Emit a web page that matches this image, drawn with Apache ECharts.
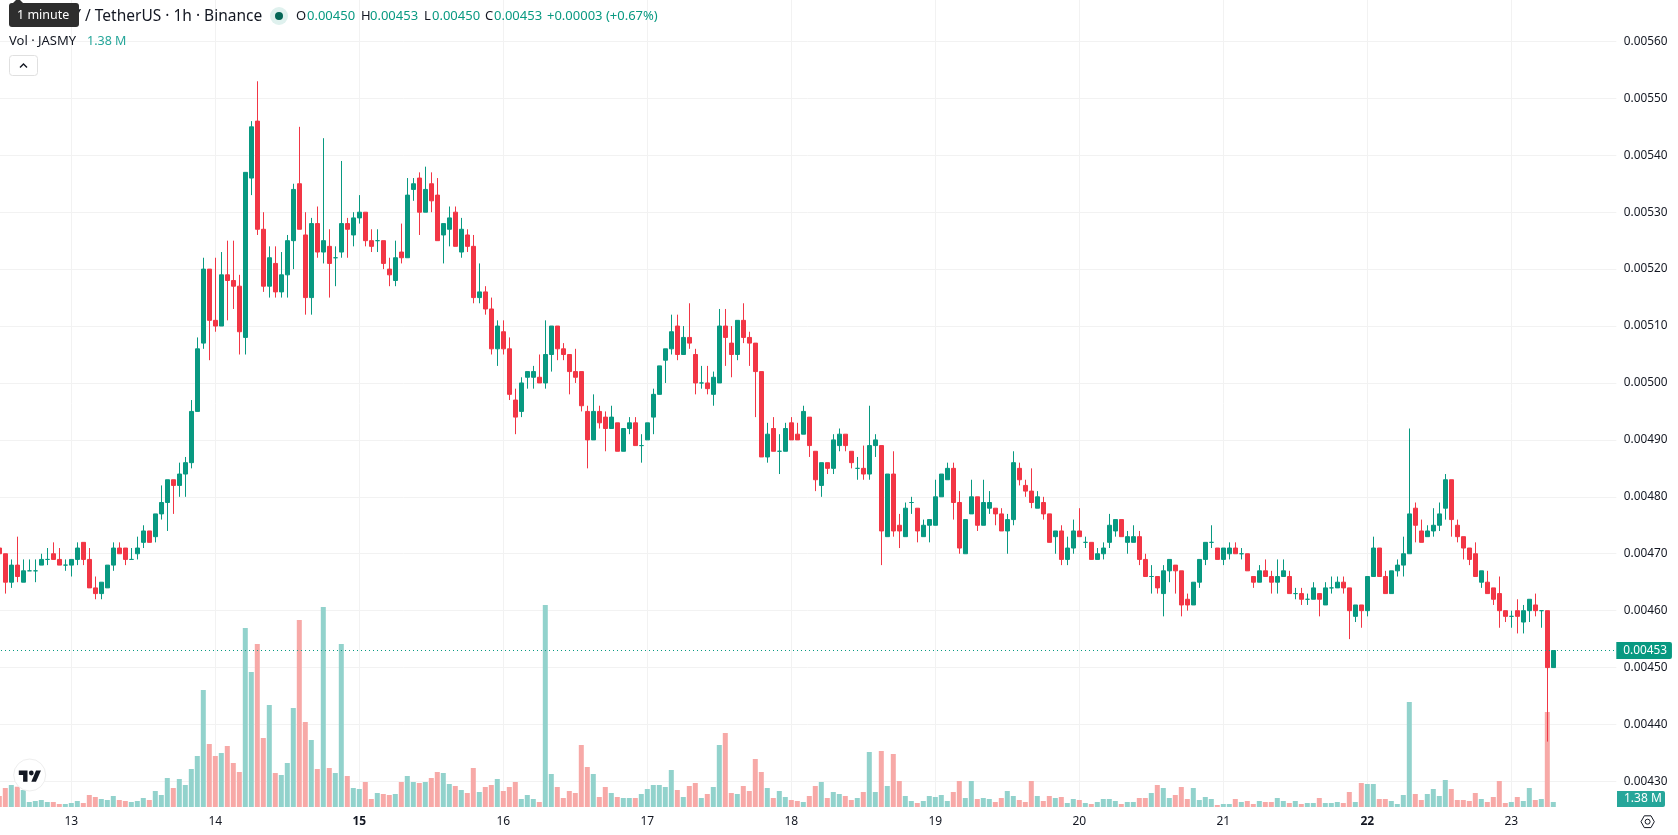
<!DOCTYPE html>
<html>
<head>
<meta charset="utf-8">
<title>JASMY / TetherUS 1h</title>
<style>
  html, body { margin: 0; padding: 0; background: #ffffff; }
  #chart { width: 1678px; height: 835px; }
</style>
<script src="https://cdn.jsdelivr.net/npm/echarts@6/dist/echarts.min.js"></script>
</head>
<body>
<div id="chart"></div>
<script>
// Hourly candles, prices in units of 0.00001 USDT, first candle is the 12th at 12:00.
const opens = [
  471,470,465,468,465,467,467,468,469,470,469,468,
  468,469,472,469,464,463,464,468,471,471,469,470,472,474,473,477,479,483,482,484,486,495,507,520,
  511,510,519,518,517,508,536,546,527,517,521,516,519,525,535,526,515,528,523,524,522,523,528,526,
  529,530,525,525,525,520,518,523,522,534,536,530,535,533,526,527,530,523,526,524,515,516,513,506,
  509,506,497,495,501,501,501,500,505,510,506,505,502,502,495,490,495,494,492,493,488,492,493,489,
  490,494,498,504,506,510,505,508,505,500,500,498,500,510,507,505,511,508,507,502,487,492,488,488,
  493,491,491,494,488,482,486,485,489,491,488,485,485,484,489,489,473,484,475,473,479,478,473,475,
  475,480,483,485,479,470,477,480,475,478,478,477,474,476,485,482,481,478,479,477,473,474,469,471,
  474,472,472,469,470,472,474,476,472,472,473,469,466,466,463,467,468,467,462,461,465,469,472,471,
  469,470,471,470,470,466,465,467,466,465,466,466,463,463,462,462,463,461,464,464,465,464,459,461,
  460,466,471,466,463,467,468,470,478,474,473,474,475,478,483,475,473,471,470,465,465,464,463,460,
  459,460,458,460,461,460,460,450
];
const closes = [
  470,465,468,466,467,467,467,469,469,469,468,468,
  469,471,469,464,463,465,468,471,470,469,469,471,474,472,477,479,483,482,484,486,495,506,520,511,
  510,519,518,517,509,537,545,527,517,522,516,519,525,534,527,515,528,523,525,521,522,528,527,529,
  530,525,524,525,521,519,522,522,533,535,530,534,532,525,528,529,524,527,524,515,516,513,506,510,
  506,498,494,500,502,502,500,505,510,506,505,502,501,496,490,495,493,492,494,488,492,493,489,489,
  493,498,503,506,509,505,508,507,500,500,499,501,510,508,505,511,508,507,502,487,491,488,488,492,
  490,490,495,489,483,486,485,490,491,489,486,485,484,489,490,474,484,474,474,478,479,474,475,476,
  480,484,485,479,471,476,480,475,479,479,477,474,476,486,483,481,479,480,477,472,474,469,471,474,
  473,472,469,470,471,475,476,473,473,473,469,466,466,464,467,469,467,461,461,465,469,472,472,469,
  471,471,470,470,467,465,467,466,465,466,467,463,463,462,462,464,462,464,464,465,464,460,461,460,
  466,471,466,463,467,468,470,477,475,472,474,475,477,483,476,473,471,469,466,467,463,462,460,459,
  459,459,460,462,460,460,450,453
];
const lows = [
  470,463,464,465,465,467,465,468,468,469,468,467,
  466,468,468,464,462,462,464,467,470,468,469,469,471,472,472,476,474,477,480,480,485,495,506,504,
  509,510,511,513,505,505,533,526,516,515,515,515,515,520,527,512,512,522,521,515,517,522,522,524,
  528,524,523,523,520,517,517,521,522,532,526,530,530,525,521,524,524,522,523,514,514,512,505,503,
  505,497,491,494,499,499,500,499,502,504,504,498,500,495,485,490,492,488,492,488,488,491,489,486,
  490,491,498,500,505,504,505,506,498,499,498,496,500,503,501,504,507,503,494,487,486,488,484,488,
  490,490,491,487,481,480,484,484,488,488,485,483,483,483,487,468,473,473,471,473,477,472,473,472,
  475,480,483,476,470,470,477,474,475,477,475,474,470,475,482,480,478,478,476,472,470,468,468,470,
  473,471,469,469,469,471,473,473,470,472,468,466,463,463,459,465,463,459,460,461,464,468,471,469,
  468,469,470,469,467,464,465,466,463,463,466,463,462,461,461,462,459,461,463,464,463,455,458,457,
  459,466,466,463,463,466,466,470,472,472,473,473,474,476,473,472,469,468,466,464,463,461,457,458,
  457,456,456,458,459,457,437,450
];
const highs = [
  471,470,469,473,469,469,469,470,471,472,471,469,
  469,472,472,471,466,465,468,472,472,471,471,473,475,474,477,482,483,483,486,487,497,508,522,520,
  522,523,525,525,519,537,546,553,530,524,524,523,526,535,545,530,529,531,543,527,524,539,529,530,
  533,530,527,527,525,522,525,528,536,536,537,538,537,536,528,531,531,529,527,526,521,517,515,511,
  511,508,499,501,502,503,505,511,510,510,507,505,506,502,496,498,496,495,496,493,492,494,494,491,
  493,499,503,506,512,512,510,514,506,503,503,502,513,513,510,511,514,509,507,502,493,494,491,493,
  494,493,496,494,488,486,486,491,492,491,488,487,489,496,491,489,484,488,477,479,480,478,476,476,
  483,484,486,486,481,476,483,480,483,481,478,478,477,488,486,483,485,481,480,477,474,475,473,476,
  478,473,472,471,472,477,476,476,474,475,474,470,468,466,468,469,468,467,463,465,469,472,475,471,
  471,472,472,471,470,466,468,469,467,469,469,467,464,464,463,465,463,465,466,466,466,464,461,461,
  466,473,471,467,467,469,473,492,479,476,475,478,479,484,483,476,473,471,472,467,467,464,466,460,
  460,462,461,462,463,460,460,453
];
// Hourly traded volume in millions of JASMY.
const volumes = [
  3.04,5.24,6.07,5.6,4.69,1.38,1.66,1.93,1.38,1.38,0.83,0.83,
  1.10,1.66,1.10,3.31,2.76,2.21,1.93,3.04,1.93,1.66,1.38,1.66,2.48,1.93,4.42,3.31,8.0,5.24,7.73,6.07,10.49,14.08,32.29,17.39,
  14.08,14.9,16.84,12.14,9.66,49.4,37.26,44.99,19.04,28.15,9.38,8.83,12.14,27.32,51.61,23.46,18.49,10.49,55.2,10.76,9.38,44.99,8.56,5.24,
  4.97,6.9,2.21,3.86,3.59,3.31,3.59,6.9,8.56,6.9,6.62,6.9,8.0,9.66,9.38,6.35,5.8,4.69,3.86,10.76,4.14,5.52,6.07,7.73,
  4.42,5.52,6.9,2.21,3.31,2.21,1.38,55.75,9.11,5.52,2.48,4.42,3.86,17.11,11.04,9.11,2.76,5.52,3.86,2.76,2.48,2.48,2.48,3.59,
  4.97,6.07,6.07,5.52,10.21,4.69,2.76,5.8,6.62,2.48,3.59,5.52,17.11,20.42,3.86,3.59,5.8,4.42,13.25,9.66,5.24,2.48,4.42,2.76,
  1.93,1.66,1.38,3.04,5.8,6.9,2.48,4.14,3.59,3.04,1.93,2.48,4.14,15.18,4.14,15.46,5.8,14.63,7.18,3.04,1.66,1.10,1.66,3.04,
  2.76,3.31,1.66,4.14,7.18,2.48,7.18,2.21,2.48,2.21,1.38,2.48,4.42,3.04,1.93,1.38,7.18,3.04,1.66,3.04,2.48,2.76,1.10,2.21,
  1.93,1.10,0.83,1.38,2.21,2.21,1.66,0.83,1.38,1.38,2.48,2.48,3.86,6.07,5.24,2.48,3.31,5.52,2.21,5.24,1.93,2.76,2.21,0.55,
  0.83,0.83,2.21,1.38,1.66,0.83,1.66,1.38,1.38,2.48,1.66,1.10,1.66,0.83,1.10,1.10,2.48,1.10,1.10,1.38,1.10,4.14,1.38,6.62,
  6.35,6.35,2.21,2.21,1.66,0.83,3.31,28.98,3.59,1.93,3.59,4.97,3.04,7.45,4.97,1.93,1.93,1.66,3.86,2.21,1.38,2.76,7.18,1.10,
  1.38,2.76,1.66,5.24,1.93,2.21,26.22,1.38
];
const dayLabels = [12, 13, 14, 15, 16, 17, 18, 19, 20, 21, 22, 23];
const boldDays = ['15', '22'];
const lastPrice = 453;
const emptyHoursAtRight = 10;

const UP = '#089981', DOWN = '#F23645';
const UP_VOL = '#92D2CC', DOWN_VOL = '#F7A9A7';
const GRID = '#f2f2f2', INK = '#131722';
const FONT = '"Noto Sans", sans-serif';

// Hour slots along the time axis.
const slots = [];
dayLabels.forEach((d, di) => {
  for (let h = di === 0 ? 12 : 0; h < 24; h++) slots.push(d + ' ' + String(h).padStart(2, '0'));
});
const slotCount = opens.length + emptyHoursAtRight;
const categories = slots.slice(0, slotCount);
const isMidnight = (i, v) => String(v).endsWith(' 00');

const candleData = opens.map((o, i) => ({
  value: [o, closes[i], lows[i], highs[i]],
  itemStyle: { borderColorDoji: UP }
}));
const volumeData = volumes.map((v, i) => ({
  value: v,
  itemStyle: { color: closes[i] >= opens[i] ? UP_VOL : DOWN_VOL }
}));

const plotLeft = -3.7, plotWidth = 1620;
const text = (x, y, s, fill, extra) => ({
  type: 'text', x, y, z: 50,
  style: Object.assign({ text: s, fill, font: '13px ' + FONT, textVerticalAlign: 'middle' }, extra || {})
});

const overlays = [
  // Legend: symbol title
  text(81, 16.5, 'JASMY', INK, { font: '15.5px ' + FONT, textAlign: 'right' }),
  text(85, 16.5, '/ TetherUS · 1h · Binance', INK, { font: '15.5px ' + FONT }),
  { type: 'circle', z: 50, shape: { cx: 279, cy: 16, r: 9 }, style: { fill: '#dff1ee' } },
  { type: 'circle', z: 51, shape: { cx: 279, cy: 16, r: 4 }, style: { fill: '#056656' } },
  // Legend: open, high, low, close
  text(296, 16.5, 'O', INK), text(307, 16.5, '0.00450', UP),
  text(361, 16.5, 'H', INK), text(370, 16.5, '0.00453', UP),
  text(424, 16.5, 'L', INK), text(432, 16.5, '0.00450', UP),
  text(485, 16.5, 'C', INK), text(494, 16.5, '0.00453', UP),
  text(547, 16.5, '+0.00003 (+0.67%)', UP),
  // Legend: volume row
  text(9, 41, 'Vol · JASMY', INK),
  text(87, 41, '1.38 M', '#26A69A', { font: '12.5px ' + FONT }),
  // Collapse button
  { type: 'rect', z: 50, shape: { x: 9.5, y: 55.5, width: 28, height: 20, r: 3 },
    style: { fill: '#ffffff', stroke: '#e0e0e0', lineWidth: 1 } },
  { type: 'polyline', z: 51, shape: { points: [[20, 67.5], [23.5, 64], [27, 67.5]] },
    style: { fill: 'none', stroke: INK, lineWidth: 1.4 } },
  // Hover hint
  { type: 'rect', z: 60, shape: { x: 9, y: 3, width: 70, height: 24, r: 3 }, style: { fill: '#2e2e2e' } },
  { type: 'polygon', z: 60, shape: { points: [[13, 3], [18, -2], [23, 3]] }, style: { fill: '#2e2e2e' } },
  Object.assign(text(17, 15.5, '1 minute', '#ffffff', { font: '12.5px ' + FONT }), { z: 61 }),
  // Volume badge at the price scale
  { type: 'rect', z: 50, shape: { x: 1617, y: 791, width: 48, height: 16, r: [0, 2, 2, 0] }, style: { fill: '#26A69A' } },
  text(1624, 799, '1.38 M', '#ffffff', { font: '12px ' + FONT }),
  // Watermark badge
  { type: 'circle', z: 40, shape: { cx: 29.7, cy: 775, r: 16 },
    style: { fill: '#ffffff', stroke: '#eeeeee', lineWidth: 1 } },
  { type: 'polygon', z: 41, shape: { points: [[18.8, 770.6], [27.5, 770.6], [27.5, 781.8], [23.1, 781.8], [23.1, 775], [18.8, 775]] },
    style: { fill: INK } },
  { type: 'circle', z: 41, shape: { cx: 31.3, cy: 773, r: 2.4 }, style: { fill: INK } },
  { type: 'polygon', z: 41, shape: { points: [[36, 770.6], [41, 770.6], [36, 781.8], [31.3, 781.8]] },
    style: { fill: INK } },
  // Scale settings
  { type: 'polygon', z: 50, shape: { points: [[1641, 821.7], [1644.3, 815.8], [1651, 815.8], [1654.3, 821.7], [1651, 827.6], [1644.3, 827.6]] },
    style: { fill: 'none', stroke: INK, lineWidth: 1 } },
  { type: 'circle', z: 50, shape: { cx: 1647.6, cy: 821.7, r: 2.5 }, style: { fill: 'none', stroke: INK, lineWidth: 1 } }
];

const chart = echarts.init(document.getElementById('chart'), null, { renderer: 'canvas' });
chart.setOption({
  animation: false,
  backgroundColor: '#ffffff',
  grid: [
    { left: plotLeft, width: plotWidth, top: -15.49, height: 853.84, containLabel: false, outerBoundsMode: 'none' },
    { left: plotLeft, width: plotWidth, top: 0, height: 807, containLabel: false, outerBoundsMode: 'none' }
  ],
  xAxis: [
    { type: 'category', gridIndex: 0, data: categories, boundaryGap: true, show: false },
    {
      type: 'category', gridIndex: 1, data: categories, boundaryGap: true,
      axisLine: { show: false },
      axisTick: { show: false, alignWithLabel: true },
      splitLine: { show: true, interval: isMidnight, alignWithLabel: true, lineStyle: { color: GRID, width: 1 } },
      axisLabel: {
        interval: isMidnight, margin: 9, color: INK, fontFamily: FONT, fontSize: 12,
        formatter: v => {
          const d = String(v).split(' ')[0];
          return boldDays.includes(d) ? '{bold|' + d + '}' : d;
        },
        rich: { bold: { fontWeight: 700, color: INK, fontFamily: FONT, fontSize: 12 } }
      }
    }
  ],
  yAxis: [
    {
      type: 'value', gridIndex: 0, position: 'right', min: 420, max: 570, interval: 10,
      axisLine: { show: false }, axisTick: { show: false },
      splitLine: { show: true, lineStyle: { color: GRID, width: 1 } },
      axisLabel: {
        margin: 7.5, color: INK, fontFamily: FONT, fontSize: 11.8, padding: [2, 0, 0, 0],
        formatter: v => (v <= 420 || v >= 570) ? '' : (v / 100000).toFixed(5)
      }
    },
    { type: 'value', gridIndex: 1, min: 0, max: 222.73, show: false, splitLine: { show: false } }
  ],
  series: [
    {
      name: 'Vol', type: 'bar', xAxisIndex: 1, yAxisIndex: 1, barWidth: 5, z: 1,
      data: volumeData, silent: true
    },
    {
      name: 'JASMY/USDT', type: 'candlestick', xAxisIndex: 0, yAxisIndex: 0, barWidth: 4, z: 3,
      data: candleData, silent: true,
      itemStyle: { color: UP, color0: DOWN, borderColor: UP, borderColor0: DOWN, borderColorDoji: UP, borderWidth: 1 },
      markLine: {
        silent: true, symbol: 'none', animation: false,
        lineStyle: { color: UP, width: 1, type: [1, 3], dashOffset: 3.3 },
        label: {
          show: true, position: 'end', distance: 0, formatter: (lastPrice / 100000).toFixed(5),
          color: '#ffffff', backgroundColor: UP, fontFamily: FONT, fontSize: 11.8,
          padding: [2.5, 5, 2.5, 7], borderRadius: [0, 2, 2, 0]
        },
        data: [{ yAxis: lastPrice }]
      }
    }
  ],
  graphic: { elements: overlays }
});
</script>
</body>
</html>
